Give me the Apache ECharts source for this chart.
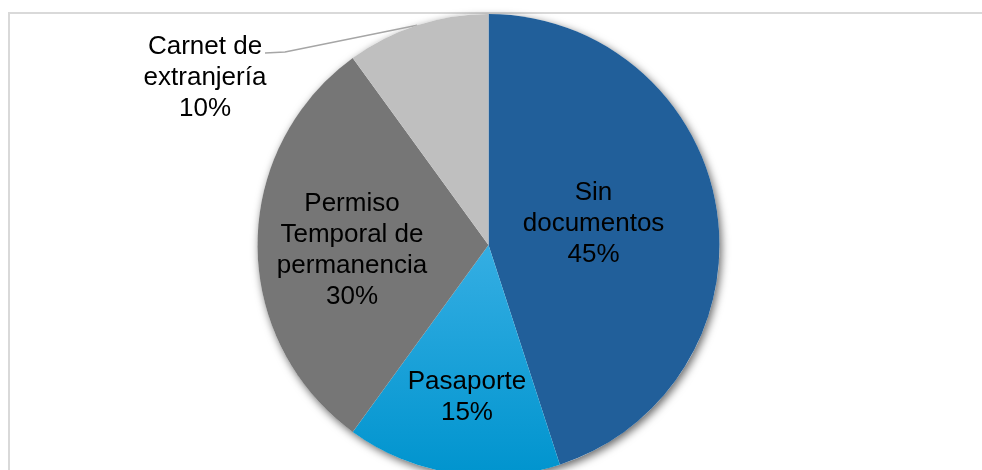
<!DOCTYPE html>
<html>
<head>
<meta charset="utf-8">
<script src="https://cdn.jsdelivr.net/npm/echarts@6/dist/echarts.min.js"></script>
<style>
  html, body { margin: 0; padding: 0; background: #fff; }
  #chart { width: 982px; height: 470px; }
</style>
</head>
<body>
<div id="chart"></div>
<script>
// datos del gráfico
var categories = ['Sin documentos', 'Pasaporte', 'Permiso Temporal de permanencia', 'Carnet de extranjería'];
var labelTexts = ['Sin\ndocumentos', 'Pasaporte', 'Permiso\nTemporal de\npermanencia', 'Carnet de\nextranjería'];
var values = [45, 15, 30, 10];

var colors = [
  '#215F9A',
  new echarts.graphic.LinearGradient(0, 0, 0, 1, [
    { offset: 0, color: '#35AEE3' },
    { offset: 1, color: '#0094CE' }
  ]),
  '#767676',
  '#BFBFBF'
];

var chart = echarts.init(document.getElementById('chart'));

var data = categories.map(function (name, i) {
  return {
    name: name,
    value: values[i],
    itemStyle: { color: colors[i] },
    label: { position: i === 3 ? 'outside' : 'inside' }
  };
});

// ajuste de etiquetas como en el original
var labelShift = [[-12, -3], [-3, 35], [-18, 5]];

var option = {
  animation: false,
  graphic: [{
    type: 'rect',
    z: 0,
    shape: { x: 9, y: 13, width: 1000, height: 500 },
    style: { fill: 'none', stroke: '#D9D9D9', lineWidth: 2 }
  }],
  series: [{
    // sombra del círculo
    type: 'pie',
    z: 1,
    silent: true,
    center: [488.5, 245],
    radius: 231,
    label: { show: false },
    labelLine: { show: false },
    itemStyle: {
      color: '#fff',
      shadowBlur: 8,
      shadowOffsetX: 2,
      shadowOffsetY: 3,
      shadowColor: 'rgba(0,0,0,0.6)'
    },
    data: [{ value: 1 }]
  }, {
    type: 'pie',
    z: 2,
    center: [488.5, 245],
    radius: 231,
    startAngle: 90,
    clockwise: true,
    percentPrecision: 0,
    itemStyle: { borderWidth: 0 },
    label: {
      formatter: function (p) {
        return labelTexts[p.dataIndex] + '\n' + p.percent + '%';
      },
      fontFamily: 'Liberation Sans, Arial, sans-serif',
      fontSize: 26,
      lineHeight: 31,
      color: '#000',
      align: 'center'
    },
    labelLine: {
      show: true,
      length: 10,
      length2: 10,
      smooth: false,
      lineStyle: { color: '#A6A6A6', width: 1.5 }
    },
    labelLayout: function (params) {
      var i = params.dataIndex;
      if (i === 3) {
        var start = params.labelLinePoints ? params.labelLinePoints[0] : [417, 25];
        return {
          x: 205,
          y: 78,
          align: 'center',
          verticalAlign: 'middle',
          labelLinePoints: [start, [285, 52], [265, 53]]
        };
      }
      return { dx: labelShift[i][0], dy: labelShift[i][1] };
    },
    data: data
  }]
};

chart.setOption(option);
</script>
</body>
</html>
